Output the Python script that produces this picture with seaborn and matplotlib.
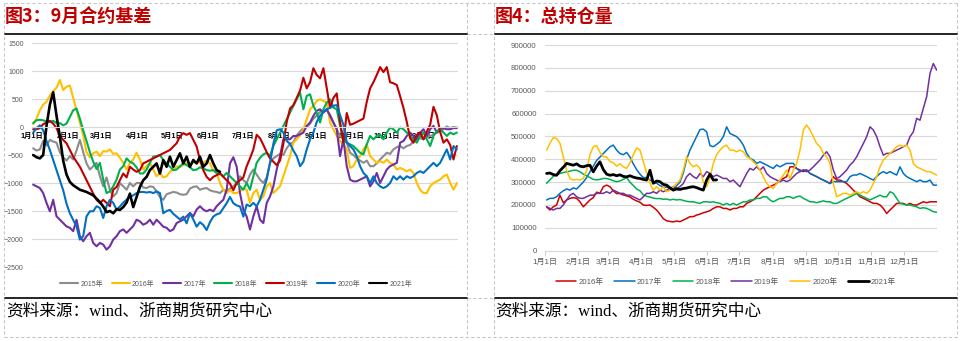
import numpy as np
import pandas as pd
import matplotlib
matplotlib.use("Agg")
import matplotlib.pyplot as plt
import seaborn as sns
from matplotlib.lines import Line2D

sns.set_theme(style="white")
plt.rcParams['font.family'] = ['Liberation Sans', 'Noto Sans CJK SC', 'DejaVu Sans']

# ---------------- data ----------------
MONTH_STARTS = [0, 31, 59, 90, 120, 151, 181, 212, 243, 273, 304, 334]
MONTH_LABELS = ["1月1日", "2月1日", "3月1日", "4月1日", "5月1日", "6月1日",
                "7月1日", "8月1日", "9月1日", "10月1日", "11月1日", "12月1日"]

# basis of the September contract, day-of-year samples
DAYS_L = np.linspace(1, 364, 128)

BASIS_2015 = [-380, -420, -400, -250, -330, -230, -260, -280, -450, -540,
              -600, -520, -580, -420, -230, -450, -650, -760, -700, -640,
              -880, -1060, -900, -1120, -1240, -1180, -1000, -1060, -1120, -1000,
              -1060, -1000, -1000, -1080, -1090, -1060, -1070, -1150, -1250, -1300,
              -1200, -1180, -1160, -1170, -1200, -1210, -1200, -1100, -1070, -1060,
              -1120, -1100, -1090, -1130, -1150, -1160, -1180, -1120, -1150, -1100,
              -1060, -1000,
              -880, -950, -1000, -850, -760, -850, -940, -1000, -900, -640,
              -560, -520, -480, -500, -380, -300, -270, -150, -80, -20,
              0, 60, 150, 200, 270, 280, 300, 220, 80, -40,
              -160, -220, -280, -460, -500, -560, -600, -640, -600, -700,
              -700, -650, -580, -520, -460, -480, -400, -360, -340, -380,
              -340, -320, -260, -220, -200, -220, -180, -160, -140, -100,
              -80, -40, 10, -20, 0, -10]

BASIS_2016 = [50, 150, 300, 400, 450, 560, 640, 700, 840, 660,
              720, 740, 520, 300, 80, -150, -450, -540, -470, -440,
              -520, -430, -440, -400, -480, -470, -550, -640, -760, -640,
              -580, -460, -580, -760, -700, -640, -760, -880, -820, -900,
              -880, -800, -760, -700, -720, -680, -640, -700, -620, -650,
              -620, -640, -600, -650, -780, -820, -1000, -1120, -1180, -1120,
              -1180, -1180,
              -1150, -1100, -1120, -1355, -1180, -1120, -1300, -1240, -1060, -1000,
              -1180, -1120, -1060, -880, -700, -520, -280, -220, -150, -40,
              140, 316, 376, 465, 495, 465, 435, 80, -40, -160,
              -250, -310, -400, -730, -700, -580, -520, -400, -310, -520,
              -580, -640, -610, -640, -580, -640, -670, -760, -730, -760,
              -790, -760, -820, -1000, -1120, -1180, -1180, -1060, -1000, -970,
              -940, -880, -850, -1000, -1120, -1000]

BASIS_2017 = [-1030, -1060, -1090, -1180, -1355, -1505, -1300, -1595, -1655, -1715,
              -1775, -1800, -1860, -1655, -1950, -2040, -1950, -1890, -2070, -2130,
              -2070, -2100, -2190, -2130, -2010, -1950, -1860, -1830, -1890, -1830,
              -1770, -1655, -1685, -1745, -1715, -1655, -1745, -1655, -1715, -1780,
              -1800, -1860, -1830, -1715, -1685, -1655, -1595, -1535, -1595, -1475,
              -1415, -1475, -1505, -1475, -1505, -1415, -1355, -1300, -1120, -650,
              -540, -710,
              -1180, -1475, -1600, -1830, -1595, -1415, -1655, -1715, -1355, -1240,
              -1060, -760, -520, -220, -220, -220, -160, -160, -130, -100,
              20, 80, 200, 290, 316, 257, 316, 200, 80, -40,
              -520, -220, -700, -940, -970, -970, -940, -910, -880, -1060,
              -970, -820, -1000, -880, -760, -700, -670, -640, -280, -250,
              -160, -100, -160, -220, -100, -40, -160, -40, 20, -100,
              -40, -20, -40, -40, -20, -20]

BASIS_2018 = [70, 120, 130, 120, 100, 90, 110, 70, 70, 30,
              60, 180, 300, 330, 150, -60, -250, -450, -620, -750,
              -640, -940, -1180, -1150, -1060, -940, -760, -700, -560, -620,
              -650, -720, -830, -830, -760, -640, -530, -520, -500, -590,
              -650, -710, -770, -760, -700, -650, -680, -720, -770, -760,
              -720, -740, -770, -780, -770, -820, -830, -880, -820, -880,
              -940, -1000,
              -1060, -1120, -1000, -1120, -880, -640, -550, -490, -460, -520,
              -340, -220, -100, 20, 137, 257, 376, 495, 615, 316,
              555, 585, 376, 257, 80, 316, 435, 495, 346, 316,
              20, -220, -280, -310, -340, -400, -460, -490, -310, -160,
              -220, -160, -130, -220, -100, -10, -40, -100, -10, -40,
              -100, -160, -220, -280, -160, -100, -220, -340, -160, -70,
              -40, -100, -160, -100, -130, -100]

BASIS_2019 = [-40, -40, -20, 50, 80, 110, 60, -20, -160, -230,
              -290, -410, -530, -620, -710, -830, -950, -1070, -1190, -1300,
              -1360, -1300, -1355, -1415, -1120, -1070, -950, -830, -900, -710,
              -760, -800, -770, -650, -620, -590, -560, -530, -500, -470,
              -440, -410, -350, -290, -170, -110, -140, -110, -230, -350,
              -590, -770, -890, -950, -890, -860, -830, -890, -950, -1010,
              -1130, -1000,
              -950, -900, -700, -560, -400, -140, -200, -320, -450, -560,
              -620, -680, -600, -300, 90, 330, 390, 520, 650, 880,
              690, 800, 1050, 930, 870, 1050, 690, 340, 520, 600,
              90, -270, 250, 40, 60, 90, 120, 150, 450, 690,
              800, 930, 1070, 980, 1070, 800, 780, 750, 550, 340,
              90, -200, -280, -140, -100, -220, -80, 40, 360, 210,
              -90, -280, -220, -320, -580, -340]

BASIS_2020 = [-100, -20, 30, -60, -250, -410, -590, -770, -950, -1130,
              -1370, -1540, -1660, -1775, -2010, -1950, -1595, -1505, -1505, -1415,
              -1445, -1625, -1415, -1300, -1355, -1475, -1420, -1350, -1300, -1250,
              -1220, -1180, -1160, -1160, -1170, -1160, -1180, -1150, -1180, -1540,
              -1500, -1480, -1550, -1600, -1650, -1600, -1720, -1540, -1650, -1780,
              -1700, -1750, -1840, -1700, -1600, -1560, -1540, -1450, -1360, -1250,
              -1360, -1400,
              -1420, -1600, -1385, -1415, -1355, -1415, -1300, -1120, -940, -640,
              -300, -60, -40, -100, -250, -300, -420, -520, -700, -620,
              -400, -220, -100, 90, 200, 270, 320, 340, 380, 390,
              210, 40, -270, -340, -400, -520, -700, -820, -880, -1000,
              -880, -1000, -1060, -1090, -1060, -1000, -880, -940, -880, -940,
              -880, -910, -880, -820, -790, -820, -760, -700, -640, -700,
              -640, -520, -400, -580, -340, -400]

BASIS_2021 = [-500, -540, -560, -500, 20, 400, 620, 200, -170, -600,
              -850, -980, -1040, -1080, -1120, -1140, -1160, -1190, -1220, -1280,
              -1340, -1420, -1520, -1500, -1540, -1470, -1480, -1430, -1350, -1190,
              -1430, -1250, -1070, -950, -890, -770, -710, -650, -830, -590,
              -710, -530, -710, -590, -470, -650, -530, -710, -590, -650,
              -530, -710, -650, -500, -650, -770, -800]

YEARS_L = ["2015年", "2016年", "2017年", "2018年", "2019年", "2020年", "2021年"]
SERIES_L = [BASIS_2015, BASIS_2016, BASIS_2017, BASIS_2018, BASIS_2019, BASIS_2020, BASIS_2021]
COLORS_L = ["#8C8C8C", "#FFC000", "#7030A0", "#00B050", "#C00000", "#0070C0", "#000000"]
YTICKS_L = [-2500, -2000, -1500, -1000, -500, 0, 500, 1000, 1500]

# total open interest (thousand lots), day-of-year samples
DAYS_R = np.linspace(1.5, 364.7, 118)

OI_2016 = [192, 178, 192, 200, 243, 210, 222, 229, 232, 229,
           214, 192, 207, 222, 232, 256, 251, 280, 287, 280,
           262, 250, 250, 244, 240, 235, 225, 218, 212, 200,
           198, 200, 190, 178, 160, 140, 131, 128, 126, 130,
           127, 134, 141, 149, 149, 156, 160, 166, 170, 175,
           185, 192,
           192, 185, 185, 178, 185, 185, 192, 192, 207, 214,
           222, 236, 251, 265, 273, 280, 287, 294, 309, 316,
           324, 367, 367, 360, 353, 346, 353, 338, 331, 324,
           316, 309, 302, 294, 324, 309, 309, 302, 294, 280,
           265, 251, 236, 229, 222, 214, 207, 207, 200, 185,
           163, 178, 192, 207, 207, 207, 200, 207, 200, 200,
           207, 214, 210, 214, 214, 214]

OI_2017 = [222, 229, 229, 236, 251, 262, 270, 265, 275, 270,
           285, 300, 320, 345, 370, 395, 410, 425, 440, 455,
           462, 440, 425, 420, 430, 410, 380, 355, 335, 320,
           320, 310, 300, 295, 285, 278, 278, 275, 270, 285,
           300, 340, 400, 440, 470, 500, 530, 532, 520, 460,
           455, 465,
           477, 499, 542, 513, 506, 499, 484, 462, 426, 404,
           397, 382, 389, 382, 375, 367, 360, 375, 367, 375,
           382, 382, 382, 360, 346, 353, 353, 338, 331, 324,
           316, 309, 302, 294, 302, 302, 302, 302, 302, 324,
           331, 331, 338, 331, 324, 316, 309, 324, 338, 346,
           338, 346, 338, 331, 367, 338, 324, 316, 309, 302,
           309, 302, 302, 309, 287, 287]

OI_2018 = [295, 310, 325, 332, 338, 342, 345, 348, 352, 352,
           345, 335, 328, 320, 312, 310, 312, 316, 316, 312,
           306, 302, 305, 312, 320, 300, 285, 270, 262, 245,
           238, 235, 230, 228, 228, 225, 226, 222, 225, 222,
           224, 220, 216, 214, 214, 210, 207, 214, 214, 212,
           214, 210,
           207, 200, 207, 200, 207, 200, 207, 214, 214, 222,
           222, 229, 229, 236, 236, 222, 214, 222, 229, 229,
           236, 236, 229, 236, 239, 229, 222, 214, 214, 210,
           214, 218, 214, 214, 207, 207, 214, 222, 229, 236,
           243, 251, 243, 236, 229, 222, 229, 236, 243, 236,
           236, 258, 251, 229, 207, 204, 200, 200, 196, 192,
           185, 188, 185, 178, 171, 168]

OI_2019 = [192, 185, 178, 185, 185, 200, 222, 243, 251, 236,
           229, 229, 236, 243, 243, 251, 251, 251, 258, 251,
           265, 258, 251, 251, 243, 243, 236, 229, 222, 236,
           251, 251, 258, 251, 265, 258, 265, 273, 280, 273,
           280, 294, 324, 338, 324, 316, 338, 324, 346, 338,
           324, 331,
           324, 316, 316, 302, 309, 294, 280, 309, 338, 360,
           353, 367, 353, 367, 338, 324, 316, 309, 302, 309,
           302, 309, 324, 338, 346, 353, 346, 353, 367, 382,
           397, 418, 433, 411, 353, 316, 324, 338, 353, 375,
           389, 411, 440, 469, 499, 542, 528, 499, 455, 418,
           426, 426, 433, 440, 447, 455, 462, 499, 520, 579,
           571, 623, 674, 776, 819, 790]

OI_2020 = [440, 470, 495, 491, 470, 411, 352, 316, 309, 312,
           309, 316, 350, 420, 455, 460, 430, 411, 411, 390,
           385, 370, 380, 367, 360, 385, 420, 450, 440, 390,
           340, 295, 265, 280, 265, 280, 258, 265, 280, 294,
           309, 352, 411, 382, 367, 375, 360, 300, 280, 320,
           382, 420,
           440, 455, 462, 440, 440, 433, 440, 433, 411, 404,
           389, 375, 353, 324, 294, 280, 273, 294, 309, 331,
           353, 316, 353, 382, 440, 528, 550, 528, 499, 469,
           455, 426, 411, 382, 294, 236, 243, 251, 251, 243,
           251, 258, 251, 258, 251, 265, 294, 324, 367, 397,
           411, 426, 440, 455, 462, 455, 462, 440, 382, 367,
           360, 353, 346, 346, 338, 331]

OI_2021 = [338, 340, 333, 330, 350, 365, 382, 378, 374, 380,
           370, 367, 372, 374, 345, 370, 389, 355, 335, 330,
           333, 328, 332, 325, 323, 328, 322, 318, 316, 312,
           309, 352, 295, 305, 302, 290, 287, 275, 265, 270,
           268, 272, 274, 278, 280, 276, 270, 265, 309, 335,
           309, 310]

YEARS_R = ["2016年", "2017年", "2018年", "2019年", "2020年", "2021年"]
SERIES_R = [OI_2016, OI_2017, OI_2018, OI_2019, OI_2020, OI_2021]
COLORS_R = ["#D00000", "#0070C0", "#00B050", "#7030A0", "#FFC000", "#000000"]
YTICKS_R = [0, 100000, 200000, 300000, 400000, 500000, 600000, 700000, 800000, 900000]


def long_frame(days, series, years, scale=1):
    parts = []
    for yr, vals in zip(years, series):
        parts.append(pd.DataFrame({"day": days[:len(vals)],
                                   "value": np.asarray(vals, dtype=float) * scale,
                                   "year": yr}))
    return pd.concat(parts, ignore_index=True)


df_l = long_frame(DAYS_L, SERIES_L, YEARS_L)
df_r = long_frame(DAYS_R, SERIES_R, YEARS_R, scale=1000)

# ---------------- figure ----------------
W, H = 961, 341
fig = plt.figure(figsize=(W / 100, H / 100), dpi=100)
fig.patch.set_facecolor("white")


def fx(x):
    return x / W


def fy(y):
    return 1 - y / H


# panel frames
dash_kw = dict(color="#C8C8C8", lw=0.8, ls=(0, (3, 2)), transform=fig.transFigure)
for (x0, y0, x1, y1) in [(4, 3, 957, 3), (4, 336.5, 957, 336.5),
                         (4, 3, 4, 336.5), (467, 3, 467, 336.5),
                         (494, 3, 494, 336.5), (957, 3, 957, 336.5),
                         (467, 34, 494, 34), (467, 298, 494, 298)]:
    fig.add_artist(Line2D([fx(x0), fx(x1)], [fy(y0), fy(y1)], **dash_kw))
for (x0, x1) in [(5, 467), (495, 957)]:
    for y in (34, 298):
        fig.add_artist(Line2D([fx(x0), fx(x1)], [fy(y), fy(y)], color="black",
                              lw=1.2, transform=fig.transFigure))

title_kw = dict(fontsize=13, fontweight="bold", color="#C00000", va="center",
                family=["Noto Sans CJK SC"])
fig.text(fx(5), fy(16), "图3：9月合约基差", **title_kw)
fig.text(fx(495), fy(16), "图4：总持仓量", **title_kw)
src_kw = dict(fontsize=12, va="center", color="black",
              family=["Liberation Serif", "Noto Sans CJK SC"])
fig.text(fx(6), fy(312), "资料来源：wind、浙商期货研究中心", **src_kw)
fig.text(fx(495), fy(312), "资料来源：wind、浙商期货研究中心", **src_kw)

# ---- left: basis ----
axL = fig.add_axes([fx(32), fy(267), fx(426), 224 / H])
for yr, col in zip(YEARS_L, COLORS_L):
    sub = df_l[df_l["year"] == yr]
    sns.lineplot(data=sub, x="day", y="value", color=col, ax=axL,
                 lw=1.9 if yr == "2021年" else 1.5, estimator=None,
                 errorbar=None, legend=False)
axL.set_xlim(0, 365)
axL.set_ylim(-2500, 1500)
axL.set_yticks(YTICKS_L)
axL.set_xticks(MONTH_STARTS)
axL.set_xticklabels(MONTH_LABELS)
axL.grid(axis="y", color="#D9D9D9", lw=0.8)
axL.grid(axis="x", visible=False)
for s in ("top", "right", "left"):
    axL.spines[s].set_visible(False)
axL.spines["bottom"].set_position(("data", 0))
axL.spines["bottom"].set_color("#D9D9D9")
axL.spines["bottom"].set_linewidth(0.8)
axL.tick_params(axis="x", length=0, pad=4.5, labelsize=5.2, labelcolor="black")
for t in axL.get_xticklabels():
    t.set_fontweight("bold")
axL.tick_params(axis="y", length=0, pad=6, labelsize=5, labelcolor="#595959")
axL.set_xlabel("")
axL.set_ylabel("")
axL.set_facecolor("none")

hl = [Line2D([], [], color=c, lw=1.5) for c in COLORS_L]
fig.legend(hl, YEARS_L, loc="center", bbox_to_anchor=(fx(236), fy(284)), ncol=7,
           frameon=False, fontsize=5, handlelength=2.6, handletextpad=0.3,
           columnspacing=1.25, labelcolor="#595959")

# ---- right: open interest ----
axR = fig.add_axes([fx(545), fy(250.7), fx(392), 205.7 / H])
for yr, col in zip(YEARS_R, COLORS_R):
    sub = df_r[df_r["year"] == yr]
    sns.lineplot(data=sub, x="day", y="value", color=col, ax=axR,
                 lw=2.0 if yr == "2021年" else 1.1, estimator=None,
                 errorbar=None, legend=False)
axR.set_xlim(0, 365)
axR.set_ylim(0, 900000)
axR.set_yticks(YTICKS_R)
axR.set_yticklabels([str(v) for v in YTICKS_R])
axR.set_xticks(MONTH_STARTS)
axR.set_xticklabels(MONTH_LABELS)
axR.grid(axis="y", color="#D9D9D9", lw=0.8)
axR.grid(axis="x", visible=False)
for s in ("top", "right", "left"):
    axR.spines[s].set_visible(False)
axR.spines["bottom"].set_color("#D9D9D9")
axR.spines["bottom"].set_linewidth(0.8)
axR.tick_params(axis="x", length=3, width=0.6, color="#BFBFBF", direction="out",
                pad=3, labelsize=5.8, labelcolor="#595959", bottom=True)
axR.tick_params(axis="y", length=0, pad=6, labelsize=5.6, labelcolor="#595959")
axR.set_xlabel("")
axR.set_ylabel("")

hr = [Line2D([], [], color=c, lw=2.0 if yr == "2021年" else 1.1)
      for yr, c in zip(YEARS_R, COLORS_R)]
fig.legend(hr, YEARS_R, loc="center", bbox_to_anchor=(fx(726), fy(282.3)), ncol=6,
           frameon=False, fontsize=5.6, handlelength=2.6, handletextpad=0.3,
           columnspacing=1.4, labelcolor="#595959")

fig.savefig("out.png", dpi=100, facecolor="white")
